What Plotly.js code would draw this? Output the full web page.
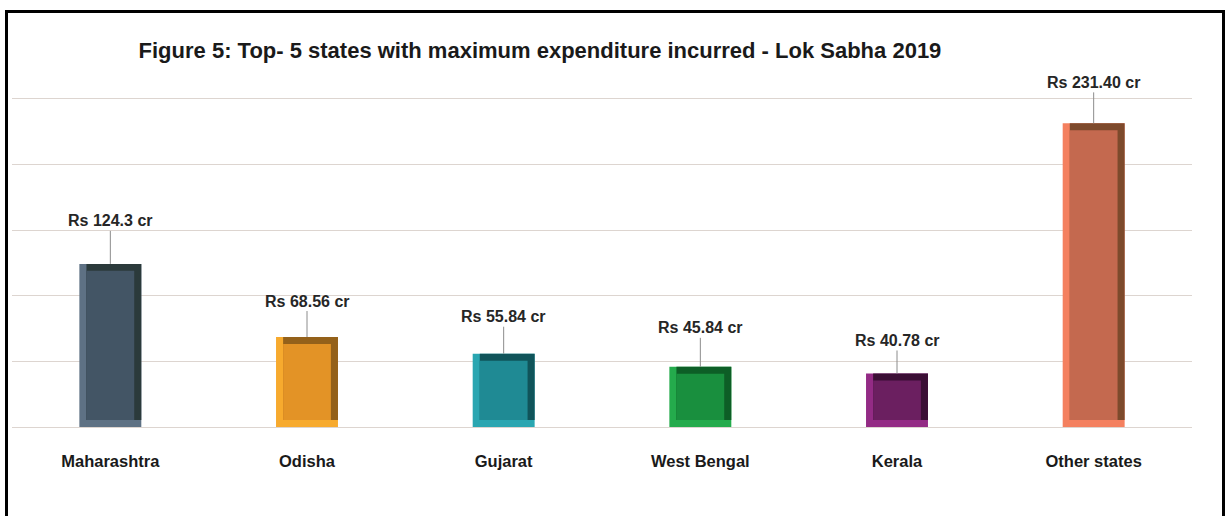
<!DOCTYPE html>
<html>
<head>
<meta charset="utf-8">
<script src="https://cdn.plot.ly/plotly-3.0.1.min.js"></script>
<style>
  html, body { margin: 0; padding: 0; background: #ffffff; overflow: hidden; }
  #wrap { position: relative; width: 1230px; height: 516px; overflow: hidden; }
  #chart { position: absolute; left: 0; top: 0; width: 1230px; height: 516px; }
  #frame { position: absolute; left: 5px; top: 10px; width: 1214px; height: 520px;
           border: 3px solid #000; pointer-events: none; }
</style>
</head>
<body>
<div id="wrap">
  <div id="chart"></div>
  <div id="frame"></div>
</div>
<script>
// ---- data ----
const states = ["Maharashtra", "Odisha", "Gujarat", "West Bengal", "Kerala", "Other states"];
const expenditure = [124.3, 68.56, 55.84, 45.84, 40.78, 231.40];
const valueLabels = ["Rs 124.3 cr", "Rs 68.56 cr", "Rs 55.84 cr", "Rs 45.84 cr", "Rs 40.78 cr", "Rs 231.40 cr"];
const chartTitle = "Figure 5: Top- 5 states with maximum expenditure incurred - Lok Sabha 2019";

// ---- styles ----
const mainColors  = ["#435565", "#e39326", "#1f8a94", "#198f3e", "#6b1f60", "#c4694f"];
const darkColors  = ["#2b3a3b", "#94611a", "#10545a", "#0d5e26", "#3b0f35", "#7d4a2c"];
const lightColors = ["#5e7184", "#f7aa2e", "#2aa6b1", "#24ab4c", "#932b85", "#f4805f"];
const labelLift = [-43, -36, -37, -39, -33, -41];
const FONT = "'Liberation Sans', Arial, sans-serif";

const barW = 0.315;      // category units
const bevX = 0.036;      // category units
const bevY = 5.3;        // value units

const traces = [
  { // light (left / bottom bevel)
    type: "bar", x: states, y: expenditure, width: barW,
    marker: { color: lightColors, line: { width: 0 } },
    hoverinfo: "skip", showlegend: false
  },
  { // dark (top / right bevel)
    type: "bar", x: states, y: expenditure.map(v => v - bevY), base: bevY,
    width: barW - bevX, offset: -barW / 2 + bevX,
    marker: { color: darkColors, line: { width: 0 } },
    hoverinfo: "skip", showlegend: false
  },
  { // face
    type: "bar", x: states, y: expenditure.map(v => v - 2 * bevY), base: bevY,
    width: barW - 2 * bevX, offset: -barW / 2 + bevX,
    marker: { color: mainColors, line: { width: 0 } },
    hoverinfo: "x+y", showlegend: false
  }
];

const annotations = states.map((s, i) => ({
  x: s, y: expenditure[i], xref: "x", yref: "y",
  text: valueLabels[i], showarrow: true, arrowhead: 0, arrowwidth: 1,
  arrowcolor: "#8c8c8c", ax: 0, ay: labelLift[i], standoff: 0,
  font: { family: FONT, size: 16, color: "#262626", weight: "bold" },
  yanchor: "middle"
}));

const layout = {
  width: 1230, height: 516,
  paper_bgcolor: "#ffffff", plot_bgcolor: "#ffffff",
  margin: { l: 12, r: 38, t: 97, b: 89 },
  barmode: "overlay",
  title: {
    text: chartTitle,
    font: { family: FONT, size: 22, color: "#1a1a1a", weight: "bold" },
    xref: "container", yref: "container",
    x: 0.439, xanchor: "center", y: 0.903, yanchor: "middle"
  },
  xaxis: {
    type: "category", showgrid: false, showline: false, ticks: "",
    ticklabelstandoff: 22,
    tickfont: { family: FONT, size: 16.5, color: "#1a1a1a", weight: "bold" }
  },
  yaxis: {
    range: [0, 251.5], dtick: 50, showticklabels: false, ticks: "",
    showgrid: true, gridcolor: "#ddd5d0", gridwidth: 1,
    zeroline: true, zerolinecolor: "#ddd5d0", zerolinewidth: 1, showline: false
  },
  annotations: annotations,
  font: { family: FONT }
};

Plotly.newPlot("chart", traces, layout, { displayModeBar: false, staticPlot: true });
</script>
</body>
</html>
